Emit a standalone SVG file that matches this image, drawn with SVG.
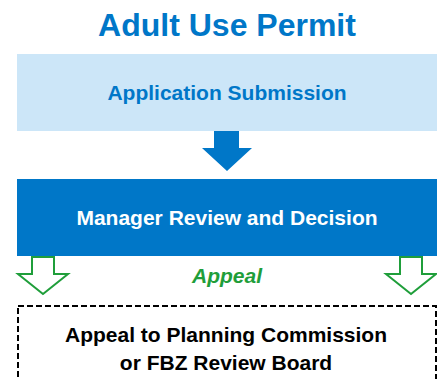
<svg xmlns="http://www.w3.org/2000/svg" width="437" height="379" viewBox="0 0 437 379">
<style>
text{font-family:"Liberation Sans",Arial,sans-serif;font-weight:bold;text-anchor:middle}
.green{fill:#fff;stroke:#1F9E3A;stroke-width:2;stroke-linejoin:miter}
</style>
<rect width="437" height="379" fill="#fff"/>
<text x="227" y="36" font-size="32" fill="#0077C8">Adult Use Permit</text>
<g id="application">
<rect x="17" y="54" width="422" height="77" fill="#CCE6F8"/>
<text x="227" y="100" font-size="21" fill="#0077C8">Application Submission</text>
</g>
<g id="manager">
<rect x="17" y="179" width="422" height="77" fill="#0077C8"/>
<text x="227" y="225" font-size="21" fill="#fff">Manager Review and Decision</text>
</g>
<g id="appeal-board">
<rect x="18" y="306" width="418" height="90" fill="#fff" stroke="#000" stroke-width="2" stroke-dasharray="6 3"/>
<text x="226" y="342" font-size="21" fill="#000">Appeal to Planning Commission</text>
<text x="226" y="370" font-size="21" fill="#000">or FBZ Review Board</text>
</g>
<g id="connectors">
<polygon points="214,131 239,131 239,148 252,148 227,171 202,148 214,148" fill="#0077C8"/>
<polygon class="green" points="32,257 54,257 54,274 68,274 43,294 18,274 32,274"/>
<polygon class="green" points="400,257 422,257 422,274 436,274 411,294 386,274 400,274"/>
<text x="227" y="283" font-size="21" font-style="italic" fill="#1F9E3A">Appeal</text>
</g>
</svg>
